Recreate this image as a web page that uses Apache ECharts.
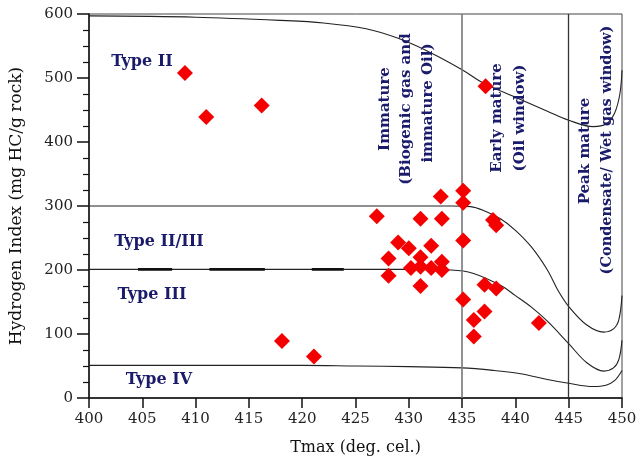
<!DOCTYPE html>
<html>
<head>
<meta charset="utf-8">
<script src="https://cdn.jsdelivr.net/npm/echarts@6/dist/echarts.min.js"></script>
<style>html,body{margin:0;padding:0;background:#fff;}#c{width:640px;height:471px;}</style>
</head>
<body>
<div id="c"></div>
<script>
// Sample points (Tmax, HI)
var tmax = [409, 411, 416.2, 418.1, 421.1, 437.2, 433, 435.1, 435.1, 427, 431.1, 433.1, 437.9, 438.2, 435.1, 429, 430, 432.1, 428.1, 431.1, 430.2, 431.1, 432.1, 433.1, 433.1, 428.1, 431.1, 437.1, 438.2, 435.1, 437.1, 436.1, 436.1, 442.2];
var hi   = [508, 439, 457, 89, 65, 487, 315, 324, 305, 284, 280, 280, 278, 270, 246, 243, 234, 238, 218, 220, 203, 205, 203, 213, 200, 191, 175, 177, 171, 154, 135, 122, 96, 117];

// Kerogen type boundary curves
var c1x = [400, 410, 418, 422, 426, 429, 432, 435, 437, 440, 443, 445, 447.3, 448.5, 449.3, 449.8, 450];
var c1y = [597, 595, 590, 586, 577, 562, 540, 513, 492, 470, 448, 434, 424, 428, 445, 475, 512];
var c2x = [400, 420, 430, 434, 435.8, 437, 438.6, 440, 441.5, 443, 444, 445, 446.7, 448.3, 449.2, 449.7, 450];
var c2y = [300, 300, 300, 300, 299, 293, 280, 262, 236, 200, 168, 143, 114, 103, 108, 122, 160];
var c3x = [400, 420, 430, 434, 436, 438.6, 440, 441.5, 443, 445, 446.7, 448.3, 449.2, 449.7, 450];
var c3y = [201, 201, 201, 200, 195, 176, 160, 142, 120, 85, 55, 42, 47, 60, 90];
var c4x = [400, 420, 425, 430, 435, 438, 440.5, 443, 445, 447.3, 448.5, 449.3, 450];
var c4y = [51, 51, 50, 49, 47, 43, 38, 29, 23, 18, 20, 27, 43];
// thicker dash fragments seen on the HI=200 boundary
var dashX = [404.6, 407.8, null, 411.3, 416.5, null, 420.9, 423.9];
var dashY = [201, 201, null, 201, 201, null, 201, 201];

var xTicks = [400, 405, 410, 415, 420, 425, 430, 435, 440, 445, 450];
var yTicks = [0, 100, 200, 300, 400, 500, 600];
var zoneBounds = [435, 445];

function zip(a, b) { return a.map(function (v, i) { return v === null ? '-' : [v, b[i]]; }); }

var FONT = '"DejaVu Serif", "Liberation Serif", serif';
var NAVY = '#1b1b6b';

function curve(xs, ys) {
  return {
    type: 'line', data: zip(xs, ys), smooth: 0.35, symbol: 'none',
    lineStyle: { color: '#222', width: 1.1 }, silent: true, z: 2
  };
}

var chart = echarts.init(document.getElementById('c'), null, { renderer: 'canvas' });
var txt = function (s, x, y, rot, size) {
  return {
    type: 'text', x: x, y: y, rotation: rot || 0, z: 10,
    style: { text: s, font: 'bold ' + (size || 16) + 'px ' + FONT, fill: NAVY, align: 'center', verticalAlign: 'middle' }
  };
};
var R = Math.PI / 2;

chart.setOption({
  backgroundColor: '#fff',
  animation: false,
  grid: { left: 86, right: 18, top: 14, bottom: 73, show: true, borderColor: '#444', borderWidth: 1, backgroundColor: 'transparent' },
  xAxis: {
    type: 'value', min: 400, max: 450, interval: 5,
    name: 'Tmax (deg. cel.)', nameLocation: 'middle', nameGap: 42,
    nameTextStyle: { fontFamily: FONT, fontSize: 16, color: '#111' },
    axisLine: { lineStyle: { color: '#111', width: 1.5 } },
    axisTick: { show: true, length: 10, lineStyle: { color: '#111', width: 1.5 } },
    axisLabel: { fontFamily: FONT, fontSize: 15, color: '#222', margin: 14,
      formatter: function (v) { return xTicks.indexOf(v) >= 0 ? String(v) : ''; } },
    splitLine: { show: false }
  },
  yAxis: {
    type: 'value', min: 0, max: 600, interval: 100,
    name: 'Hydrogen Index (mg HC/g rock)', nameLocation: 'middle', nameGap: 64,
    nameTextStyle: { fontFamily: FONT, fontSize: 17, color: '#111' },
    axisLine: { show: true, lineStyle: { color: '#111', width: 1.5 } },
    axisTick: { show: true, length: 12, lineStyle: { color: '#111', width: 1.5 } },
    minorTick: { show: true, splitNumber: 4, length: 6, lineStyle: { color: '#111', width: 1.2 } },
    axisLabel: { fontFamily: FONT, fontSize: 15, color: '#222', margin: 16,
      formatter: function (v) { return yTicks.indexOf(v) >= 0 ? String(v) : ''; } },
    splitLine: { show: false }
  },
  series: [
    curve(c1x, c1y), curve(c2x, c2y), curve(c3x, c3y), curve(c4x, c4y),
    {
      type: 'line', data: zip(dashX, dashY), symbol: 'none', silent: true, z: 2,
      connectNulls: false, lineStyle: { color: '#111', width: 2.6 }
    },
    {
      type: 'line', data: [], silent: true,
      markLine: {
        symbol: 'none', silent: true, label: { show: false },
        data: [
          { xAxis: zoneBounds[0], lineStyle: { color: '#777', width: 1.6, type: 'solid' } },
          { xAxis: zoneBounds[1], lineStyle: { color: '#333', width: 1.3, type: 'solid' } }
        ]
      }
    },
    {
      type: 'scatter', data: zip(tmax, hi), symbol: 'diamond', symbolSize: 16,
      itemStyle: { color: '#f50000', opacity: 1 }, z: 5
    }
  ],
  graphic: [
    txt('Type II', 142, 62, 0, 16),
    txt('Type II/III', 159, 242, 0, 16),
    txt('Type III', 152, 295, 0, 16),
    txt('Type IV', 159, 380, 0, 16),
    txt('Immature', 385, 109, R, 15),
    txt('(Biogenic gas and', 406, 109, R, 15),
    txt('immature Oil)', 428, 103, R, 15),
    txt('Early mature', 497, 118, R, 15),
    txt('(Oil window)', 520, 118, R, 15),
    txt('Peak mature', 585, 151, R, 15),
    txt('(Condensate/ Wet gas window)', 607, 150, R, 14.5)
  ]
});
</script>
</body>
</html>
